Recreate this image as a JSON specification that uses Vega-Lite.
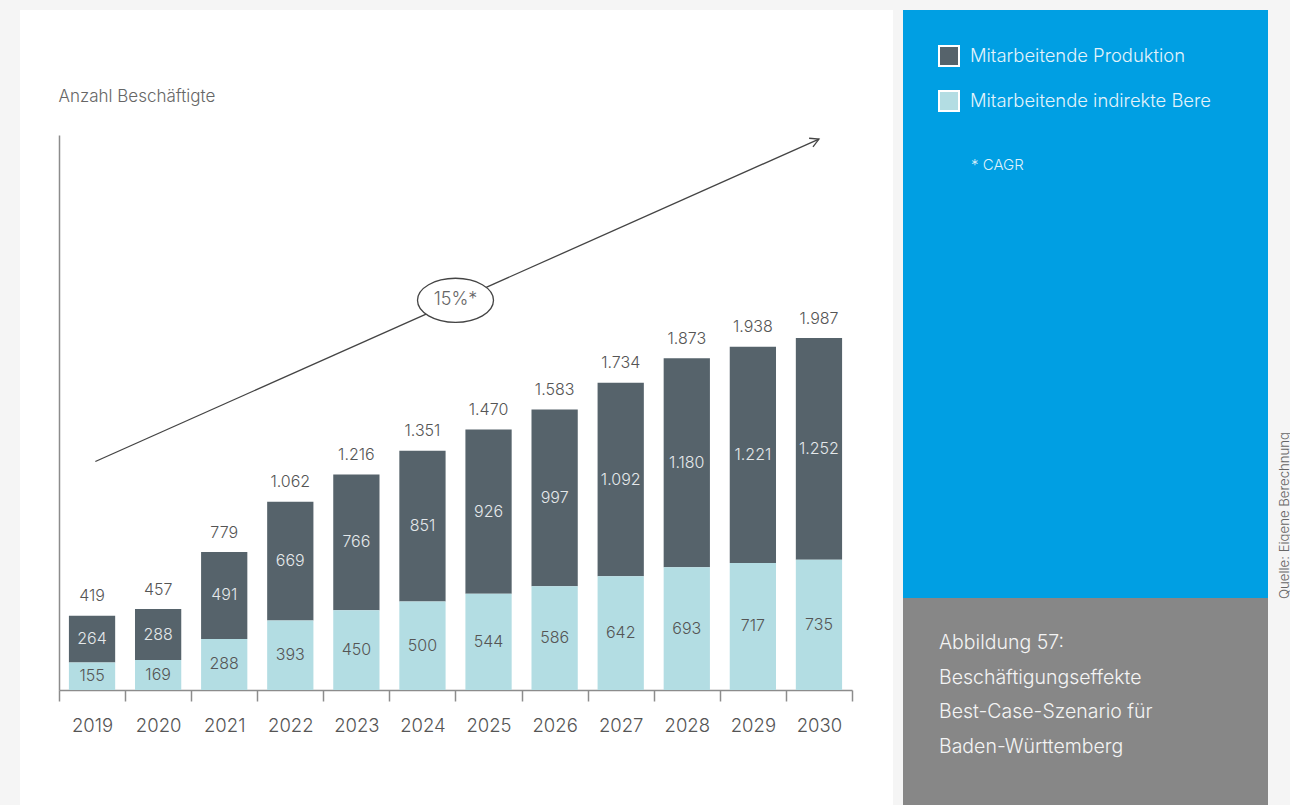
{
  "$schema": "https://vega.github.io/schema/vega-lite/v6.json",
  "background": "#f5f5f5",
  "padding": {"left": 20, "top": 10, "right": 0, "bottom": 0},
  "spacing": 10,
  "bounds": "flush",
  "datasets": {
    "emp": [
      {"year": "2019", "series": "Mitarbeitende Produktion", "value": 264},
      {"year": "2019", "series": "Mitarbeitende indirekte Bereiche", "value": 155},
      {"year": "2020", "series": "Mitarbeitende Produktion", "value": 288},
      {"year": "2020", "series": "Mitarbeitende indirekte Bereiche", "value": 169},
      {"year": "2021", "series": "Mitarbeitende Produktion", "value": 491},
      {"year": "2021", "series": "Mitarbeitende indirekte Bereiche", "value": 288},
      {"year": "2022", "series": "Mitarbeitende Produktion", "value": 669},
      {"year": "2022", "series": "Mitarbeitende indirekte Bereiche", "value": 393},
      {"year": "2023", "series": "Mitarbeitende Produktion", "value": 766},
      {"year": "2023", "series": "Mitarbeitende indirekte Bereiche", "value": 450},
      {"year": "2024", "series": "Mitarbeitende Produktion", "value": 851},
      {"year": "2024", "series": "Mitarbeitende indirekte Bereiche", "value": 500},
      {"year": "2025", "series": "Mitarbeitende Produktion", "value": 926},
      {"year": "2025", "series": "Mitarbeitende indirekte Bereiche", "value": 544},
      {"year": "2026", "series": "Mitarbeitende Produktion", "value": 997},
      {"year": "2026", "series": "Mitarbeitende indirekte Bereiche", "value": 586},
      {"year": "2027", "series": "Mitarbeitende Produktion", "value": 1092},
      {"year": "2027", "series": "Mitarbeitende indirekte Bereiche", "value": 642},
      {"year": "2028", "series": "Mitarbeitende Produktion", "value": 1180},
      {"year": "2028", "series": "Mitarbeitende indirekte Bereiche", "value": 693},
      {"year": "2029", "series": "Mitarbeitende Produktion", "value": 1221},
      {"year": "2029", "series": "Mitarbeitende indirekte Bereiche", "value": 717},
      {"year": "2030", "series": "Mitarbeitende Produktion", "value": 1252},
      {"year": "2030", "series": "Mitarbeitende indirekte Bereiche", "value": 735}
    ],
    "annot": [
      {"role": "start", "jahr": 2019.05, "wert": 1290},
      {"role": "end", "jahr": 2030.0, "wert": 3110},
      {"role": "cagr", "jahr": 2024.5, "wert": 2200, "label": "15%*"}
    ]
  },
  "hconcat": [
    {
      "width": 873,
      "height": 795,
      "view": {"fill": "white", "stroke": null},
      "resolve": {"scale": {"x": "independent"}},
      "layer": [
        {
          "layer": [
            {
              "data": {"name": "emp"},
              "transform": [
                {"stack": "value", "groupby": ["year"], "sort": [{"field": "series", "order": "descending"}], "as": ["v0", "v1"]}
              ],
              "mark": {"type": "bar", "width": {"band": 0.7}},
              "encoding": {
                "x": {
                  "field": "year", "type": "ordinal",
                  "scale": {"range": [39, 832], "paddingInner": 0, "paddingOuter": 0},
                  "axis": {
                    "orient": "bottom", "offset": -115, "title": null, "tickBand": "extent",
                    "tickSize": 11, "domainColor": "#8c8c8c", "tickColor": "#8c8c8c",
                    "domainWidth": 1.5, "tickWidth": 1.5, "labelFontSize": 18.5, "labelColor": "#555555",
                    "labelPadding": 15, "labelAngle": 0, "labelFont": "Inter", "labelFontWeight": 300
                  }
                },
                "y": {
                  "field": "v1", "type": "quantitative",
                  "scale": {"domain": [0, 3133], "range": [680, 125], "nice": false, "zero": false},
                  "axis": {
                    "offset": -39, "ticks": false, "labels": false, "grid": false,
                    "domainColor": "#8c8c8c", "domainWidth": 1.5,
                    "title": "Anzahl Beschäftigte", "titleAngle": 0, "titleAlign": "left",
                    "titleBaseline": "alphabetic", "titleX": -1, "titleY": 91,
                    "titleFontSize": 17, "titleFontWeight": 300, "titleColor": "#666666", "titleFont": "Inter"
                  }
                },
                "y2": {"field": "v0"},
                "color": {
                  "field": "series", "type": "nominal",
                  "scale": {"domain": ["Mitarbeitende Produktion", "Mitarbeitende indirekte Bereiche"], "range": ["#56636b", "#b3dde3"]},
                  "legend": {
                    "orient": "none", "legendX": 918, "legendY": 35, "title": null, "padding": 0,
                    "symbolType": "square", "symbolSize": 400, "symbolStrokeColor": "white", "symbolStrokeWidth": 2,
                    "labelFontSize": 18.4, "labelColor": "#e3f3fb", "labelOffset": 10, "labelLimit": 243,
                    "labelFont": "Inter", "labelFontWeight": 300, "rowPadding": 17,
                    "encode": {
                      "labels": {"update": {"ellipsis": {"value": "\u200b"}}},
                      "symbols": {"update": {"stroke": {"value": "white"}, "strokeWidth": {"value": 2}, "opacity": {"value": 1}}}
                    }
                  }
                }
              }
            },
            {
              "data": {"name": "emp"},
              "transform": [
                {"stack": "value", "groupby": ["year"], "sort": [{"field": "series", "order": "descending"}], "as": ["v0", "v1"]},
                {"calculate": "(datum.v0 + datum.v1) / 2", "as": "mid"}
              ],
              "mark": {"type": "text", "fontSize": 16, "font": "Inter", "fontWeight": 300, "baseline": "middle"},
              "encoding": {
                "x": {"field": "year", "type": "ordinal"},
                "y": {"field": "mid", "type": "quantitative"},
                "text": {"field": "value", "type": "quantitative", "format": ",d"},
                "color": {
                  "condition": {"test": "datum.series === 'Mitarbeitende Produktion'", "value": "#e4e8ea"},
                  "value": "#555555"
                }
              }
            },
            {
              "data": {"name": "emp"},
              "transform": [
                {"aggregate": [{"op": "sum", "field": "value", "as": "total"}], "groupby": ["year"]}
              ],
              "mark": {"type": "text", "fontSize": 16, "font": "Inter", "fontWeight": 300, "baseline": "middle", "dy": -19.5, "color": "#555555"},
              "encoding": {
                "x": {"field": "year", "type": "ordinal"},
                "y": {"field": "total", "type": "quantitative"},
                "text": {"field": "total", "type": "quantitative", "format": ",d"}
              }
            }
          ]
        },
        {
          "data": {"name": "annot"},
          "layer": [
            {
              "transform": [{"filter": "datum.role !== 'cagr'"}],
              "mark": {"type": "line", "color": "#444444", "strokeWidth": 1.3},
              "encoding": {
                "x": {"field": "jahr", "type": "quantitative", "scale": {"domain": [2018.5, 2030.5], "range": [39, 832], "nice": false, "zero": false}, "axis": null},
                "y": {"field": "wert", "type": "quantitative"}
              }
            },
            {
              "transform": [{"filter": "datum.role === 'end'"}],
              "mark": {"type": "point", "shape": "M -1 -0.55 L 0 0 L -1 0.55", "filled": false, "stroke": "#444444", "strokeWidth": 1.3, "size": 300, "angle": -24, "opacity": 1},
              "encoding": {
                "x": {"field": "jahr", "type": "quantitative", "axis": null},
                "y": {"field": "wert", "type": "quantitative"}
              }
            },
            {
              "transform": [{"filter": "datum.role === 'cagr'"}],
              "mark": {"type": "point", "shape": "M 1 0 C 1 0.3203 0.5523 0.58 0 0.58 C -0.5523 0.58 -1 0.3203 -1 0 C -1 -0.3203 -0.5523 -0.58 0 -0.58 C 0.5523 -0.58 1 -0.3203 1 0 Z", "filled": true, "fill": "white", "stroke": "#444444", "strokeWidth": 1.3, "size": 5776, "opacity": 1},
              "encoding": {
                "x": {"field": "jahr", "type": "quantitative", "axis": null},
                "y": {"field": "wert", "type": "quantitative"}
              }
            },
            {
              "transform": [{"filter": "datum.role === 'cagr'"}],
              "mark": {"type": "text", "fontSize": 18, "font": "Inter", "fontWeight": 300, "color": "#666666", "baseline": "middle"},
              "encoding": {
                "x": {"field": "jahr", "type": "quantitative", "axis": null},
                "y": {"field": "wert", "type": "quantitative"},
                "text": {"field": "label"}
              }
            }
          ]
        }
      ]
    },
    {
      "vconcat": [
        {
          "width": 365,
          "height": 588,
          "view": {"fill": "#009fe3", "stroke": null},
          "data": {"values": [
            {"note": "* CAGR", "kind": "footnote"},
            {"note": "Quelle: Eigene Berechnung", "kind": "source"}
          ]},
          "layer": [
            {
              "transform": [{"filter": "datum.kind === 'footnote'"}],
              "mark": {"type": "text", "align": "left", "baseline": "middle", "fontSize": 15, "font": "Inter", "fontWeight": 300, "color": "#def1fb"},
              "encoding": {
                "x": {"datum": 0.1863, "type": "quantitative", "scale": {"domain": [0, 1], "nice": false}, "axis": null},
                "y": {"datum": 0.2636, "type": "quantitative", "scale": {"domain": [0, 1], "reverse": true, "nice": false}, "axis": null},
                "text": {"field": "note"}
              }
            },
            {
              "transform": [{"filter": "datum.kind === 'source'"}],
              "mark": {"type": "text", "align": "left", "baseline": "alphabetic", "angle": 270, "fontSize": 13.2, "font": "Inter", "fontWeight": 300, "color": "#666666"},
              "encoding": {
                "x": {"datum": 1.0575, "type": "quantitative"},
                "y": {"datum": 1.0017, "type": "quantitative"},
                "text": {"field": "note"}
              }
            }
          ]
        },
        {
          "width": 365,
          "height": 207,
          "view": {"fill": "#878787", "stroke": null},
          "data": {"values": [
            {"line": 1, "text": "Abbildung 57:"},
            {"line": 2, "text": "Beschäftigungseffekte"},
            {"line": 3, "text": "Best-Case-Szenario für"},
            {"line": 4, "text": "Baden-Württemberg"}
          ]},
          "mark": {"type": "text", "align": "left", "baseline": "middle", "fontSize": 19.5, "font": "Inter", "fontWeight": 300, "color": "#f4f4f4"},
          "encoding": {
            "x": {"datum": 0.0986, "type": "quantitative", "scale": {"domain": [0, 1], "nice": false}, "axis": null},
            "y": {"field": "line", "type": "quantitative", "scale": {"domain": [-0.3, 5.67], "reverse": true, "nice": false, "zero": false}, "axis": null},
            "text": {"field": "text"}
          }
        }
      ],
      "spacing": 0,
      "bounds": "flush"
    }
  ],
  "config": {
    "view": {"stroke": null},
    "font": "Inter",
    "style": {"guide-label": {"ellipsis": "\u200b"}},
    "locale": {"number": {"decimal": ",", "thousands": ".", "grouping": [3], "currency": ["", " €"]}}
  }
}
